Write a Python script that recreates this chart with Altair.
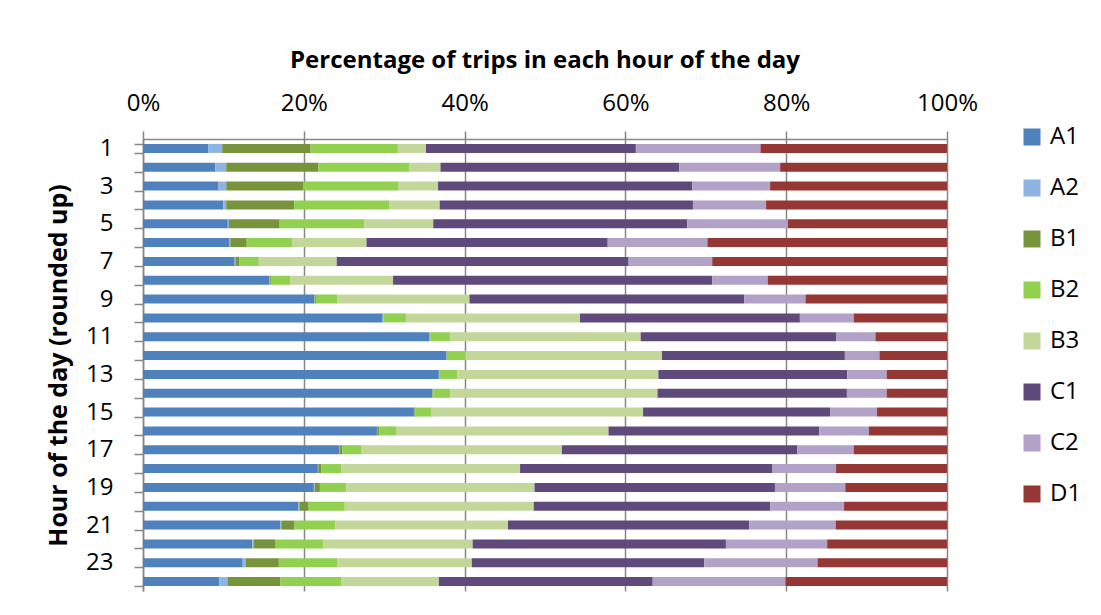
import altair as alt
import pandas as pd

hours = list(range(1, 25))
series = ["A1", "A2", "B1", "B2", "B3", "C1", "C2", "D1"]
colors = ["#4F81BD", "#8EB4E3", "#77933C", "#92D050", "#C4D79B", "#604A7B", "#B3A2C7", "#953735"]

A1 = [8.1, 9.0, 9.4, 10.0, 10.55, 10.76, 11.4, 15.7, 21.3, 29.8, 35.6, 37.75, 36.8, 35.95, 33.7, 29.1, 24.4, 21.75, 21.25, 19.35, 17.05, 13.6, 12.4, 9.5]
A2 = [1.75, 1.35, 0.95, 0.35, 0.15, 0.09, 0.1, 0.05, 0.05, 0.05, 0.05, 0.03, 0.05, 0.05, 0.05, 0.05, 0.05, 0.05, 0.1, 0.1, 0.15, 0.2, 0.4, 1.0]
B1 = [11.0, 11.45, 9.55, 8.45, 6.3, 2.05, 0.5, 0.15, 0.15, 0.05, 0.1, 0.02, 0.05, 0.1, 0.15, 0.25, 0.35, 0.4, 0.65, 1.15, 1.65, 2.7, 4.1, 6.6]
B2 = [10.85, 11.3, 11.9, 11.8, 10.5, 5.7, 2.4, 2.4, 2.7, 2.8, 2.45, 2.3, 2.2, 2.15, 2.0, 2.15, 2.4, 2.5, 3.3, 4.5, 5.1, 5.9, 7.3, 7.6]
B3 = [3.5, 3.9, 4.9, 6.3, 8.6, 9.2, 9.7, 12.8, 16.4, 21.65, 23.7, 24.45, 25.0, 25.75, 26.3, 26.35, 24.9, 22.2, 23.4, 23.5, 21.45, 18.6, 16.7, 12.1]
C1 = [26.1, 29.7, 31.6, 31.5, 31.6, 30.0, 36.3, 39.7, 34.2, 27.35, 24.3, 22.75, 23.5, 23.55, 23.3, 26.2, 29.3, 31.4, 29.9, 29.4, 30.0, 31.5, 28.9, 26.6]
C2 = [15.5, 12.55, 9.7, 9.1, 12.5, 12.4, 10.4, 6.9, 7.6, 6.7, 4.9, 4.3, 4.9, 4.95, 5.8, 6.2, 7.0, 7.9, 8.75, 9.2, 10.75, 12.6, 14.1, 16.5]
D1 = [23.2, 20.75, 22.0, 22.5, 19.8, 29.8, 29.2, 22.3, 17.6, 11.6, 8.9, 8.4, 7.5, 7.5, 8.7, 9.7, 11.6, 13.8, 12.65, 12.8, 13.85, 14.9, 16.1, 20.1]

values = {"A1": A1, "A2": A2, "B1": B1, "B2": B2, "B3": B3, "C1": C1, "C2": C2, "D1": D1}

rows = []
for si, s in enumerate(series):
    for h, v in zip(hours, values[s]):
        rows.append({"hour": h, "series": s, "order": si, "value": v})
df = pd.DataFrame(rows)

FONT = "Open Sans"
GRAY = "#878787"

chart = (
    alt.Chart(df)
    .mark_bar()
    .encode(
        x=alt.X(
            "value:Q",
            stack="normalize",
            scale=alt.Scale(domain=[0, 1]),
            axis=alt.Axis(
                orient="top",
                format=".0%",
                values=[0, 0.2, 0.4, 0.6, 0.8, 1.0],
                title=None,
                grid=True,
                gridColor=GRAY,
                gridWidth=1.5,
                domainColor=GRAY,
                domainWidth=1.5,
                tickColor=GRAY,
                tickWidth=1.5,
                tickSize=8,
                labelFontSize=24,
                labelPadding=16,
                labelFlush=False,
                labelColor="#000000",
            ),
        ),
        y=alt.Y(
            "hour:O",
            sort="ascending",
            scale=alt.Scale(paddingInner=0.52),
            axis=alt.Axis(
                title="Hour of the day (rounded up)",
                titleFontSize=25,
                titleFontWeight="bold",
                titleColor="#000000",
                titlePadding=14,
                labelExpr="datum.value % 2 == 1 ? datum.label : ''",
                labelFontSize=24,
                labelPadding=21,
                labelColor="#000000",
                tickBand="extent",
                tickSize=9,
                tickColor=GRAY,
                tickWidth=1.5,
                domainColor=GRAY,
                domainWidth=1.5,
                grid=False,
            ),
        ),
        color=alt.Color(
            "series:N",
            sort=series,
            scale=alt.Scale(domain=series, range=colors),
            legend=alt.Legend(
                title=None,
                orient="none",
                legendX=877,
                legendY=-14,
                symbolType="square",
                symbolSize=289,
                symbolStrokeWidth=0,
                labelFontSize=24,
                labelColor="#000000",
                labelOffset=6,
                rowPadding=27,
            ),
        ),
        order=alt.Order("order:Q", sort="ascending"),
    )
    .properties(
        width=804,
        height=452,
        title=alt.TitleParams(
            "Percentage of trips in each hour of the day",
            fontSize=24,
            fontWeight="bold",
            anchor="middle",
            offset=18,
            color="#000000",
        ),
        autosize=alt.AutoSizeParams(type="none"),
        padding={"left": 135, "top": 131, "right": 146, "bottom": 16},
    )
    .configure(font=FONT)
    .configure_view(stroke="transparent")
)

chart.save("out.html", embed_options={"renderer": "svg", "actions": False})
